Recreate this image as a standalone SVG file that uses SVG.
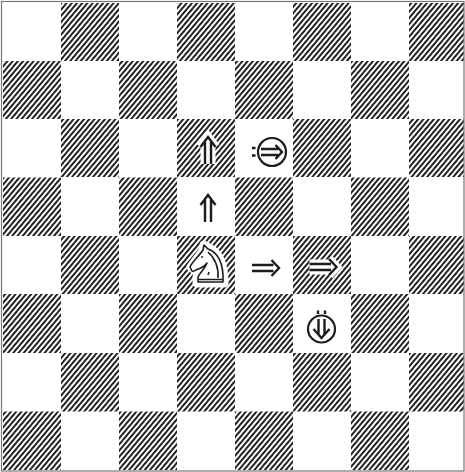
<svg xmlns="http://www.w3.org/2000/svg" width="465" height="472" viewBox="0 0 465 472">
<defs>
<pattern id="h" width="4" height="4" patternUnits="userSpaceOnUse" patternTransform="rotate(-50)"><rect width="4" height="4" fill="#fff"/><rect width="4" height="2" fill="#222"/></pattern>
<path id="ua" d="M-3,14V-8M3,14V-8M-7.500,-3L0,-13L7.500,-3"/>
<path id="ra" d="M-13.500,-3H8M-13.500,3H8M6,-8L13.500,0L6,8"/>
</defs>
<style>.d{fill:url(#h)}.a{stroke:#1c1c1c;stroke-width:2.400;fill:none}.halo{stroke:#fff;stroke-width:9;fill:none}</style>
<rect width="465" height="472" fill="#fff"/>
<g id="board">
<path class="d" d="M61,3h58v58h-58zM177,3h58v58h-58zM293,3h58v58h-58zM409,3h55v58h-55z"/>
<path class="d" d="M3,61h58v58h-58zM119,61h58v58h-58zM235,61h58v58h-58zM351,61h58v58h-58z"/>
<path class="d" d="M61,119h58v58h-58zM177,119h58v58h-58zM293,119h58v58h-58zM409,119h55v58h-55z"/>
<path class="d" d="M3,177.500h58v58.500h-58zM119,177.500h58v58.500h-58zM235,177.500h58v58.500h-58zM351,177.500h58v58.500h-58z"/>
<path class="d" d="M61,236h58v58h-58zM177,236h58v58h-58zM293,236h58v58h-58zM409,236h55v58h-55z"/>
<path class="d" d="M3,294h58v59h-58zM119,294h58v59h-58zM235,294h58v59h-58zM351,294h58v59h-58z"/>
<path class="d" d="M61,353h58v58.500h-58zM177,353h58v58.500h-58zM293,353h58v58.500h-58zM409,353h55v58.500h-55z"/>
<path class="d" d="M3,411.500h58v58.500h-58zM119,411.500h58v58.500h-58zM235,411.500h58v58.500h-58zM351,411.500h58v58.500h-58z"/>
<rect x="1.500" y="1.500" width="462.500" height="469.500" fill="none" stroke="#777" stroke-width="1.200"/>
</g>
<g id="knight">
<path d="M197,283V277C199,272 204,268 207,265C204,268 199,270 196,271L191,267L203,251L204,245L209,248C218,252 224,262 224,283Z" fill="#fff" stroke="#fff" stroke-width="9" stroke-linejoin="round"/>
<path d="M198,282V277C200,272 205,269 207,263C204,267 199,269 196,270C194,271 193,272 192,271L190,267C192,262 200,255 203,250L204,245L208,249C217,252 224,262 223,282Z" fill="#fff" stroke="#1c1c1c" stroke-width="1.600" stroke-linejoin="round"/>
<path d="M208,252C215,258 219,268 218,278M198,279.500H223M201,257H203M209,272L208,275" fill="none" stroke="#1c1c1c" stroke-width="1.600"/>
</g>
<g id="up-arrow-marked" transform="translate(208,150)"><use href="#ua" class="halo"/><use href="#ua" class="a"/></g>
<g id="up-arrow" transform="translate(208,208)"><use href="#ua" class="a"/></g>
<g id="right-arrow" transform="translate(265.500,268)"><use href="#ra" class="a"/></g>
<g id="right-arrow-marked" transform="translate(323,267)"><use href="#ra" class="halo"/><use href="#ra" class="a"/></g>
<g id="circled-right" transform="translate(272,152)"><circle r="14" fill="#fff" stroke="#1c1c1c" stroke-width="2.200"/><path d="M-11,-3H6M-11,3H6M3.500,-7L10,0L3.500,7" class="a"/><path d="M-20,-4H-16.500M-20,3.500H-16.500" class="a"/></g>
<g id="circled-down" transform="translate(321.500,329)"><circle r="13.500" fill="#fff" stroke="#1c1c1c" stroke-width="2.200"/><path d="M-3,-10V5M3,-10V5M-8,0L0,9L8,0" class="a"/><path d="M-3.500,-18.500V-15M3.500,-18.500V-15" class="a"/></g>
</svg>
